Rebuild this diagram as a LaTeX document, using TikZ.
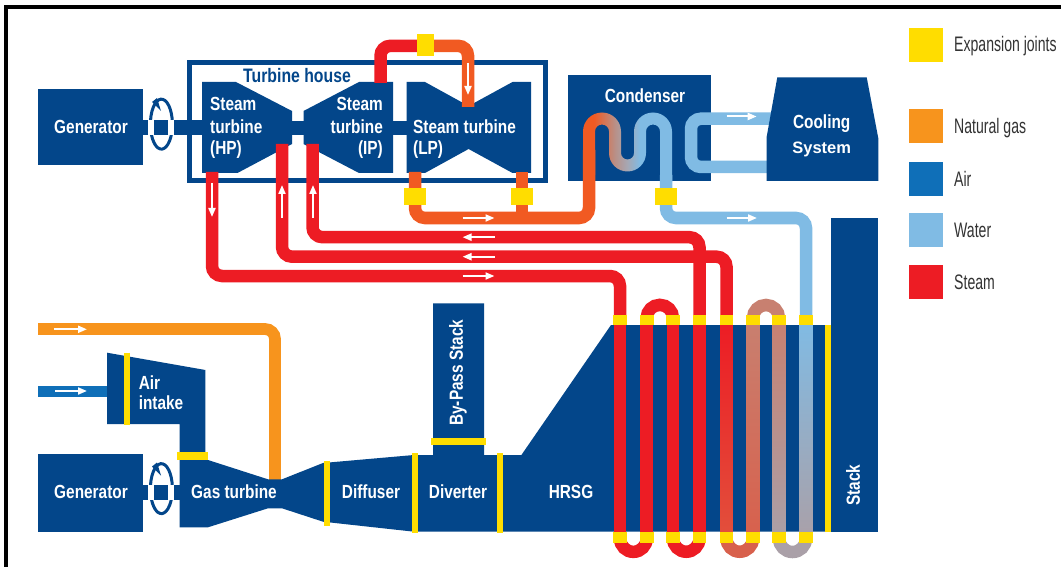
\documentclass[tikz,border=0pt]{standalone}
\usepackage{fontspec}
\usetikzlibrary{arrows.meta}
\newfontfamily\lblfont[FakeStretch=0.81]{Liberation Sans}
\newfontfamily\legfont[FakeStretch=0.67]{Liberation Sans}
\newfontfamily\widefont{Liberation Sans}
\definecolor{navy}{HTML}{03468A}
\definecolor{joint}{HTML}{FFDD00}
\definecolor{gasc}{HTML}{F7941D}
\definecolor{airc}{HTML}{0F6FB8}
\definecolor{waterc}{HTML}{80BBE4}
\definecolor{steamc}{HTML}{ED1C24}
\definecolor{lpc}{HTML}{F15A22}
\definecolor{mixa}{HTML}{B89088}
\definecolor{mixb}{HTML}{A6A8B4}
\definecolor{tubefa}{HTML}{E2503C}
\definecolor{tubefb}{HTML}{C88070}
\definecolor{tubefc}{HTML}{D8604C}
\definecolor{tubefd}{HTML}{AAA0A8}
\pgfdeclarehorizontalshading{condtube}{100bp}{
 color(0bp)=(lpc); color(31bp)=(lpc);
 color(43bp)=(mixa); color(50bp)=(mixb); color(57bp)=(waterc); color(100bp)=(waterc)}
\tikzset{
 body/.style={fill=navy,draw=none},
 lbl/.style={text=white,font=\lblfont\bfseries\fontsize{19}{21}\selectfont,inner sep=0pt},
 leg/.style={text=black!80,font=\legfont\fontsize{21}{23}\selectfont,inner sep=0pt,anchor=west},
 tube/.style={line width=12.5pt,draw=steamc},
 pipe/.style={line width=12.5pt,rounded corners=10pt},
 jt/.style={fill=joint,draw=none},
 ybar/.style={line width=6pt,draw=joint},
 flow/.style={white,line width=2pt,-{Triangle[length=9pt,width=7pt]}},
 legbox/.style={draw=none,minimum width=34pt,minimum height=34pt,inner sep=0pt}
}
\begin{document}
\begin{tikzpicture}[x=1pt,y=1pt,yscale=-1]
\useasboundingbox (0,0) rectangle (1061,567);
\fill[white] (0,0) rectangle (1061,567);
% frame
\fill[black] (4,5) rectangle (1061,9);
\fill[black] (4,5) rectangle (8,567);

% anchors for pipes
\coordinate (hpout) at (212,172);
\coordinate (hpin) at (282,144);
\coordinate (ipin) at (312.5,144);
\coordinate (ipout) at (380.5,83);
\coordinate (lpin) at (468,107);
\coordinate (lpa) at (415,172);
\coordinate (lpb) at (522,172);
\coordinate (t1) at (620,325);
\coordinate (t4) at (699.5,325);
\coordinate (t5) at (726.5,325);
\coordinate (t8) at (806,325);
\coordinate (wout) at (666,175);
\coordinate (coolA) at (780,118.7);
\coordinate (coolB) at (780,167);
\coordinate (gasin) at (38,329);
\coordinate (gasout) at (275,480);
\coordinate (airin) at (38,391);
\coordinate (airout) at (108,391);

% generators and shafts
\fill[body] (38,89) rectangle (143,165.5);
\fill[body] (143,120.5) rectangle (204,135);
\fill[body] (38,454.3) rectangle (143,531.7);
\fill[body] (143,485) rectangle (182,499.5);

% rotation marks
\foreach \cy in {128,492.5}{
 \draw[navy,line width=3pt] (151,\cy-12) arc[start angle=199,end angle=-235,x radius=11,y radius=25];
 \fill[white] (147.5,\cy-7.5) rectangle (154,\cy+7);
 \fill[white] (168,\cy-7.5) rectangle (174,\cy+7);
 \fill[navy] (152,\cy-26) -- (161,\cy-17) -- (157,\cy-30) -- cycle;
}

% turbine house
\draw[navy,line width=5pt] (189,62.5) rectangle (545,181);
\fill[body] (292,121) rectangle (304,135);
\fill[body] (393,121) rectangle (407,135);
\fill[body] (202,82) -- (236,82) -- (292,111) -- (292,144) -- (237.5,173) -- (202,173) -- cycle;
\fill[body] (303.5,111) -- (359,82) -- (393,82) -- (393,173) -- (359,173) -- (303.5,144) -- cycle;
\fill[body] (406.5,82) -- (425,82) -- (468.6,106) -- (512.5,82) -- (531,82) -- (531,173) -- (512.5,173) -- (468.6,149) -- (425,173) -- (406.5,173) -- cycle;

% steam loop on top
\draw[pipe,draw=lpc] (425,45.8) -- (468,45.8) -- (lpin);
\draw[pipe,draw=steamc] (ipout) -- (380.5,45.8) -- (425,45.8);
\fill[jt] (417,34) rectangle (433.5,56);
\draw[flow] (468,63) -- (468,95);

% condenser, cooling
\fill[body] (568.3,75) rectangle (710.7,181);
\draw[pipe,draw=waterc] (coolA) -- (691,118.7) -- (691,167) -- (coolB);
\fill[body] (777.3,77.3) -- (866.7,77.3) -- (878.3,138.3) -- (878.3,181) -- (766.7,181) -- (766.7,136.7) -- cycle;
\draw[flow] (726.7,116.5) -- (756.7,116.5);

% LP exhaust and water lines below
\draw[pipe,draw=lpc] (lpa) -- (415,218) -- (589,218) -- (589,150);
\draw[pipe,draw=lpc] (lpb) -- (522,218);
\draw[pipe,draw=waterc] (wout) -- (666,218) -- (806,218) -- (t8);
% serpentine in condenser
\shade[shading=condtube]
 (583,175) -- (583,131.5) arc[start angle=180,end angle=360,radius=19]
 -- (621,153) arc[start angle=180,end angle=0,radius=6.5]
 -- (634,131.5) arc[start angle=180,end angle=360,radius=19]
 -- (672,182) -- (660,182) -- (660,131.5) arc[start angle=360,end angle=180,radius=7]
 -- (646,153) arc[start angle=0,end angle=180,radius=18.5]
 -- (609,131.5) arc[start angle=360,end angle=180,radius=7]
 -- (595,175) -- cycle;
\fill[jt] (403.5,188) rectangle (425.7,205);
\fill[jt] (511.4,188) rectangle (533,205);
\fill[jt] (655,188) rectangle (676.7,205);
\draw[flow] (462.5,218) -- (494.5,218);
\draw[flow] (726.7,218) -- (757,218);

% steam lines
\draw[pipe,draw=steamc] (ipin) -- (312.5,237.2) -- (699.5,237.2) -- (t4);
\draw[pipe,draw=steamc] (hpin) -- (282,256.7) -- (726.5,256.7) -- (t5);
\draw[pipe,draw=steamc] (hpout) -- (212,276) -- (620,276) -- (t1);
\draw[flow] (212,183) -- (212,217);
\draw[flow] (282,218) -- (282,185);
\draw[flow] (313,218) -- (313,185);
\draw[flow] (494.5,237.2) -- (462.5,237.2);
\draw[flow] (494.5,256.7) -- (462.5,256.7);
\draw[flow] (462.5,276) -- (494.5,276);

% gas turbine train
\draw[line width=11.7pt,rounded corners=10pt,draw=gasc] (gasin) -- (275,329) -- (gasout);
\draw[line width=11pt,draw=airc] (airin) -- (airout);
\draw[flow] (54,329.3) -- (87,329.3);
\draw[flow] (55,391) -- (87,391);
\fill[body] (107,352.7) -- (205.4,370) -- (205.4,452) -- (179.6,452) -- (179.6,424) -- (107,424) -- cycle;
\fill[body] (179.6,460) -- (208,460) -- (268,479.3) -- (282,479.3) -- (323,463) -- (414,455) -- (433,455)
 -- (433,303.3) -- (484,303.3) -- (484,455) -- (521.4,455) -- (611,325) -- (825,325) -- (825,531.7)
 -- (414,531.7) -- (323,521.7) -- (282,508.3) -- (268,508.3) -- (208,527.3) -- (179.6,527.3) -- cycle;
\fill[body] (830.7,218.3) rectangle (878.3,531.7);
\fill[body] (825,325) rectangle (831,531.7);

% yellow bars
\draw[ybar] (127,352.7) -- (127,425);
\fill[jt] (176.8,451.7) rectangle (208.2,460);
\draw[ybar] (326.8,460.7) -- (326.8,526);
\draw[ybar] (415,453.3) -- (415,533.3);
\draw[ybar] (500,453.3) -- (500,533.3);
\draw[line width=7pt,draw=joint] (431,441.3) -- (486.4,441.3);
\draw[line width=5.5pt,draw=joint] (828,325) -- (828,532);

% HRSG tubes
\draw[tube] (620,320) -- (620,540);
\draw[tube] (646.7,318) -- (646.7,540);
\draw[tube] (673,318) -- (673,540);
\draw[tube] (699.5,320) -- (699.5,540);
\shade[top color=steamc,bottom color=tubefa] (720.2,320) rectangle (732.8,540);
\shade[top color=tubefb,bottom color=tubefc] (746.7,318) rectangle (759.3,540);
\shade[top color=tubefb,bottom color=tubefd] (772.7,318) rectangle (785.3,540);
\shade[top color=waterc,bottom color=tubefd] (799.7,320) rectangle (812.3,540);
\draw[tube] (646.7,318) arc[start angle=180,end angle=360,radius=13.15];
\draw[tube,draw=tubefb] (753,318) arc[start angle=180,end angle=360,radius=13];
\draw[tube] (620,538.5) arc[start angle=180,end angle=0,radius=13.35];
\draw[tube] (673,538.5) arc[start angle=180,end angle=0,radius=13.25];
\draw[tube,draw=tubefc] (726.5,538.5) arc[start angle=180,end angle=0,radius=13.25];
\draw[tube,draw=tubefd] (779,538.5) arc[start angle=180,end angle=0,radius=13.5];
\foreach \x in {620,646.7,673,699.5,726.5,753,779,806}{
 \fill[jt] (\x-6.8,315) rectangle (\x+6.8,325);
 \fill[jt] (\x-6.8,531.7) rectangle (\x+6.8,543);
}

% labels
\node[lbl] (gen1) at (91,127) {Generator};
\node[lbl] (gen2) at (91,492) {Generator};
\node[lbl,text=navy,font=\lblfont\bfseries\fontsize{19.5}{21}\selectfont] (house) at (297,76) {Turbine house};
\node[lbl,anchor=west] (hp1) at (210,104) {Steam};
\node[lbl,anchor=west] (hp2) at (210,127) {turbine};
\node[lbl,anchor=west] (hp3) at (210,150) {(HP)};
\node[lbl,anchor=east] (ip1) at (383,104) {Steam};
\node[lbl,anchor=east] (ip2) at (383,127) {turbine};
\node[lbl,anchor=east] (ip3) at (383,150) {(IP)};
\node[lbl,anchor=west] (lp1) at (413,127) {Steam turbine};
\node[lbl,anchor=west] (lp2) at (413,150) {(LP)};
\node[lbl] (cond) at (645,96) {Condenser};
\node[lbl] (cool1) at (821.7,124) {Cooling};
\node[lbl,font=\widefont\bfseries\fontsize{16.5}{18}\selectfont] (cool2) at (821.7,149) {System};
\node[lbl,anchor=west] (air1) at (138.6,383) {Air};
\node[lbl,anchor=west] (air2) at (138.6,403) {intake};
\node[lbl] (gt) at (234,492) {Gas turbine};
\node[lbl] (diff) at (371,492) {Diffuser};
\node[lbl] (div) at (458,492) {Diverter};
\node[lbl] (hrsg) at (571,491.7) {HRSG};
\node[lbl,rotate=90] (bypass) at (458,372.7) {By-Pass Stack};
\node[lbl,rotate=90] (stack) at (853,485) {Stack};

% legend
\node[legbox,fill=joint] (k1) at (926,45) {};
\node[legbox,fill=gasc] (k2) at (926,126) {};
\node[legbox,fill=airc] (k3) at (926,179) {};
\node[legbox,fill=waterc] (k4) at (926,230) {};
\node[legbox,fill=steamc] (k5) at (926,282) {};
\node[leg] (t1k) at (954,46) {Expansion joints};
\node[leg] (t2k) at (954,128) {Natural gas};
\node[leg] (t3k) at (954,179) {Air};
\node[leg] (t4k) at (954,230) {Water};
\node[leg] (t5k) at (954,282) {Steam};
\end{tikzpicture}
\end{document}
